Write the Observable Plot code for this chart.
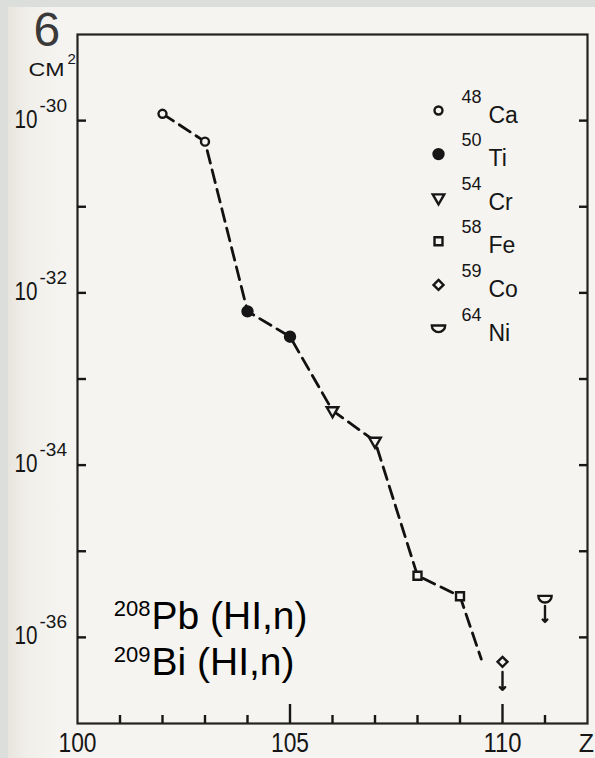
<!DOCTYPE html>
<html><head><meta charset="utf-8">
<script src="https://cdn.jsdelivr.net/npm/d3@7"></script>
<script src="https://cdn.jsdelivr.net/npm/@observablehq/plot@0.6"></script>
<style>
html,body{margin:0;padding:0;background:#dcdedb;}
#chart{width:595px;height:758px;}
</style></head><body><div id="chart"></div>
<script>
// ---- data ----
const zValues = [102, 103, 104, 105, 106, 107, 108, 109];
const crossSections = [1.2e-30, 5.7e-31, 6.1e-33, 3.1e-33, 4.3e-34, 1.9e-34, 5.2e-36, 3.0e-36];
const projectiles = ["Ca", "Ca", "Ti", "Ti", "Cr", "Cr", "Fe", "Fe"];
const curveEndZ = 109.5;
const curveEndSigma = 5.6e-37;
const limitZ = [110, 111];
const limitSigma = [5.2e-37, 2.8e-36];
const limitProjectile = ["Co", "Ni"];
const legendMass = ["48", "50", "54", "58", "59", "64"];
const legendElement = ["Ca", "Ti", "Cr", "Fe", "Co", "Ni"];
const xTickLabels = [100, 105, 110];
const xMinorTicks = [101, 102, 103, 104, 106, 107, 108, 109, 111];
const xMajorTicks = [105, 110];
const yTicks = [1e-30, 1e-31, 1e-32, 1e-33, 1e-34, 1e-35, 1e-36];
const yLabelValues = [1e-30, 1e-32, 1e-34, 1e-36];
const yLabelExp = ["-30", "-32", "-34", "-36"];
const reactionMass = ["208", "209"];
const reactionText = ["Pb (HI,n)", "Bi (HI,n)"];

// ---- styles ----
const ink = "#161616";
const paper = "#f5f4f0";
const sans = "'Liberation Sans',Arial,sans-serif";
const FW = 510, FH = 689;

const semicircle = {
  draw(ctx, size) {
    const r = Math.sqrt(size / Math.PI) * 1.55;
    ctx.moveTo(r, -r * 0.45);
    ctx.arc(0, -r * 0.45, r, 0, Math.PI);
    ctx.closePath();
  }
};
const symbolStyle = {
  Ca: {symbol: "circle", r: 4, fill: paper},
  Ti: {symbol: "circle", r: 5, fill: ink},
  Cr: {symbol: "triangle", r: 4.3, fill: paper, rotate: 180},
  Fe: {symbol: "square", r: 4.5, fill: paper},
  Co: {symbol: "diamond2", r: 4.5, fill: paper},
  Ni: {symbol: semicircle, r: 4.3, fill: paper}
};

const points = zValues.map((z, i) => ({z, sigma: crossSections[i], el: projectiles[i]}));
const limits = limitZ.map((z, i) => ({z, sigma: limitSigma[i], el: limitProjectile[i]}));
const curve = [...points, {z: curveEndZ, sigma: curveEndSigma}];

const marks = [];
marks.push(Plot.frame({stroke: "#222", strokeWidth: 2.2}));
// ticks
marks.push(Plot.tickX(xMinorTicks, {x: d => d, insetTop: FH - 8, stroke: ink, strokeWidth: 2.4}));
marks.push(Plot.tickX(xMajorTicks, {x: d => d, insetTop: FH - 19, stroke: ink, strokeWidth: 2.4}));
marks.push(Plot.tickY(yTicks, {y: d => d, insetRight: FW - 9, stroke: ink, strokeWidth: 2.4}));
marks.push(Plot.tickY(yTicks, {y: d => d, insetLeft: FW - 8, stroke: ink, strokeWidth: 2.4}));
// curve
marks.push(Plot.line(curve, {x: "z", y: "sigma", stroke: "#111", strokeWidth: 2.8, strokeDasharray: "13,7"}));
// points
for (const el of Object.keys(symbolStyle)) {
  const s = symbolStyle[el];
  const data = [...points, ...limits].filter(d => d.el === el);
  if (data.length) marks.push(Plot.dot(data, {x: "z", y: "sigma", ...s, stroke: ink, strokeWidth: 2.4}));
}
// upper limit arrows
const arrowOpts = [{dy: 10, length: 18}, {dy: 7, length: 16}];
limits.forEach((d, i) => marks.push(Plot.vector([d], {x: "z", y: "sigma", rotate: 180, anchor: "start", r: 2.6, stroke: ink, strokeWidth: 2.4, ...arrowOpts[i]})));
// legend
legendElement.forEach((el, i) => {
  const s = symbolStyle[el];
  marks.push(Plot.dot([el], {frameAnchor: "top-right", dx: -149, dy: 76 + 43.6 * i, ...s, stroke: ink, strokeWidth: 2.4}));
  marks.push(Plot.text([legendMass[i]], {frameAnchor: "top-right", text: d => d, dx: -106, dy: 68 + 43.6 * i, textAnchor: "end", lineAnchor: "bottom", fontSize: 18, fontFamily: sans, fill: ink}));
  marks.push(Plot.text([el], {frameAnchor: "top-right", text: d => d, dx: -99, dy: 88 + 43.6 * i, textAnchor: "start", lineAnchor: "bottom", fontSize: 23, fontFamily: sans, fill: ink}));
});
// y labels
marks.push(Plot.text(yLabelValues, {y: d => d, frameAnchor: "left", text: () => "10", dx: -40, dy: 7, textAnchor: "end", lineAnchor: "bottom", fontSize: 25, fontFamily: sans, fill: ink}));
marks.push(Plot.text(yLabelValues, {y: d => d, frameAnchor: "left", text: (d, i) => yLabelExp[i], dx: -38, dy: -9, textAnchor: "start", lineAnchor: "bottom", fontSize: 19, fontFamily: sans, fill: ink}));
// x labels
marks.push(Plot.text(xTickLabels, {x: d => d, frameAnchor: "bottom", text: d => String(d), dy: 28, lineAnchor: "bottom", fontSize: 27, fontFamily: sans, fill: ink}));
marks.push(Plot.text(["Z"], {frameAnchor: "bottom-right", text: d => d, dx: -1, dy: 28, lineAnchor: "bottom", textAnchor: "middle", fontSize: 25, fontFamily: sans, fill: ink}));
// unit
marks.push(Plot.text(["6"], {frameAnchor: "top-left", text: d => d, dx: -44, dy: 11, textAnchor: "start", lineAnchor: "bottom", fontSize: 48, fontFamily: sans, fill: "#3a3a3a"}));
marks.push(Plot.text(["CM"], {frameAnchor: "top-left", text: d => d, dx: -49, dy: 41, textAnchor: "start", lineAnchor: "bottom", fontSize: 18, fontFamily: sans, fill: ink}));
marks.push(Plot.text(["2"], {frameAnchor: "top-left", text: d => d, dx: -10, dy: 29, textAnchor: "start", lineAnchor: "bottom", fontSize: 15, fontFamily: sans, fill: ink}));
// reaction annotation
reactionMass.forEach((m, i) => {
  marks.push(Plot.text([m], {frameAnchor: "top-left", text: d => d, dx: 73, dy: 581 + 46 * i, textAnchor: "end", lineAnchor: "bottom", fontSize: 22, fontFamily: sans, fill: "#000"}));
  marks.push(Plot.text([reactionText[i]], {frameAnchor: "top-left", text: d => d, dx: 74, dy: 594 + 46 * i, textAnchor: "start", lineAnchor: "bottom", fontSize: 39, fontFamily: sans, fill: "#000"}));
});

const chart = Plot.plot({
  width: 595, height: 758,
  marginLeft: 77, marginRight: 8, marginTop: 34, marginBottom: 35,
  x: {domain: [100, 112], axis: null},
  y: {type: "log", domain: [1e-37, 1e-29], axis: null},
  style: {
    background: "linear-gradient(to bottom, #dcdedb 0 7px, transparent 7px), linear-gradient(to right, #dcdedb 0 8px, #e8e5de 8px, #f1efea 28px, #f5f4f0 60px, #f5f4f0 100%)",
    overflow: "visible"
  },
  marks
});
// condensed / widened look of the original lettering
const svg = d3.select(chart);
const fit = (labels, len) => svg.selectAll("text")
  .filter(function() { return labels.includes(this.textContent.trim()); })
  .attr("textLength", len).attr("lengthAdjust", "spacingAndGlyphs");
fit(xTickLabels.map(String), 38);
fit(["10"], 23);
fit(["CM"], 36);
document.getElementById("chart").append(chart);
</script></body></html>
